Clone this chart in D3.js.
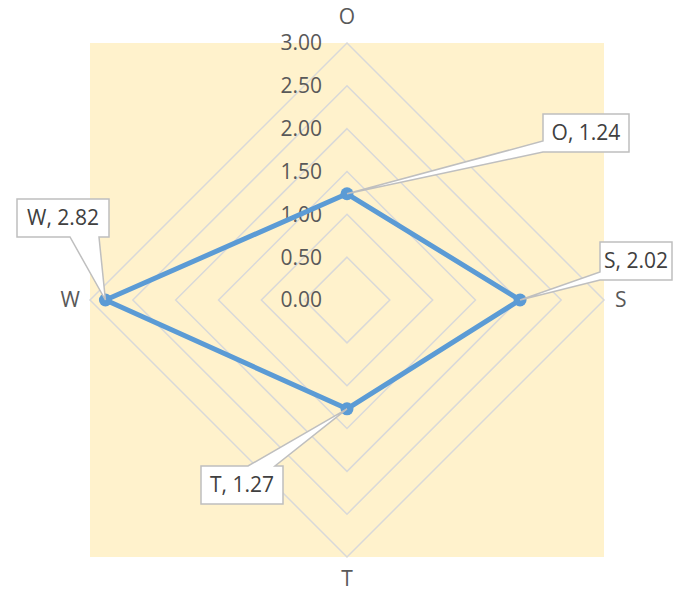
<!DOCTYPE html>
<html>
<head>
<meta charset="utf-8">
<script src="https://cdn.jsdelivr.net/npm/d3@7"></script>
<style>
  body { margin: 0; background: #fff; }
  svg { display: block; }
</style>
</head>
<body>
<div id="chart"></div>
<script>
// data
var axes = ['O', 'S', 'T', 'W'];
var values = [1.24, 2.02, 1.27, 2.82];
var ticks = [0, 0.5, 1, 1.5, 2, 2.5, 3];

var width = 673, height = 593;
var cx = 347, cy = 300, R = 257;

var svg = d3.select('#chart').append('svg')
    .attr('width', width)
    .attr('height', height)
    .style('font-family', '"Open Sans", sans-serif');

var r = d3.scaleLinear().domain([0, 3]).range([0, R]);
var angle = d3.scalePoint().domain(axes).range([0, 2 * Math.PI * 3 / 4]);

function pt(axis, v) {
    var a = angle(axis);
    return [cx + r(v) * Math.sin(a), cy - r(v) * Math.cos(a)];
}

// plot area background
svg.append('rect')
    .attr('x', cx - R)
    .attr('y', cy - R)
    .attr('width', 2 * R)
    .attr('height', 2 * R)
    .attr('fill', '#fff2cc');

// grid rings
var line = d3.line();
svg.append('g').selectAll('path')
    .data(ticks.slice(1))
    .enter().append('path')
    .attr('d', function(t) {
        return line(axes.map(function(a) { return pt(a, t); })) + 'Z';
    })
    .attr('fill', 'none')
    .attr('stroke', '#d9d9d9')
    .attr('stroke-width', 1.5);

// tick labels
svg.append('g').selectAll('text')
    .data(ticks)
    .enter().append('text')
    .attr('x', cx - 25)
    .attr('y', function(t) { return cy - r(t); })
    .attr('dy', '0.35em')
    .attr('text-anchor', 'end')
    .attr('font-size', 21)
    .attr('fill', '#595959')
    .text(function(t) { return t.toFixed(2); });

// axis labels
var labelPos = {
    O: { x: cx, y: cy - R - 26, anchor: 'middle' },
    S: { x: cx + R + 11, y: cy, anchor: 'start' },
    T: { x: cx, y: cy + R + 22, anchor: 'middle' },
    W: { x: cx - R - 10, y: cy, anchor: 'end' }
};
svg.append('g').selectAll('text')
    .data(axes)
    .enter().append('text')
    .attr('x', function(a) { return labelPos[a].x; })
    .attr('y', function(a) { return labelPos[a].y; })
    .attr('dy', '0.35em')
    .attr('text-anchor', function(a) { return labelPos[a].anchor; })
    .attr('font-size', 21)
    .attr('fill', '#595959')
    .text(function(a) { return a; });

// series
var pts = axes.map(function(a, i) { return pt(a, values[i]); });
svg.append('path')
    .attr('d', line(pts) + 'Z')
    .attr('fill', 'none')
    .attr('stroke', '#5b9bd5')
    .attr('stroke-width', 5)
    .attr('stroke-linejoin', 'round');

svg.append('g').selectAll('circle')
    .data(pts)
    .enter().append('circle')
    .attr('cx', function(d) { return d[0]; })
    .attr('cy', function(d) { return d[1]; })
    .attr('r', 6.5)
    .attr('fill', '#5b9bd5');

// callouts: box and where the tail leaves the box
var callouts = {
    O: { x: 543, y: 114, w: 86, h: 38, edge: 'left', b1: 141, b2: 152 },
    S: { x: 600, y: 242, w: 72, h: 38, edge: 'left', b1: 272, b2: 280 },
    T: { x: 201, y: 466, w: 82, h: 38, edge: 'top', b1: 248, b2: 275 },
    W: { x: 17, y: 199, w: 92, h: 38, edge: 'bottom', b1: 70, b2: 99 }
};

function calloutPath(c, p) {
    var x0 = c.x, y0 = c.y, x1 = c.x + c.w, y1 = c.y + c.h;
    var tail = ' L' + p[0] + ',' + p[1] + ' ';
    if (c.edge == 'left') {
        return 'M' + x0 + ',' + y0 + ' H' + x1 + ' V' + y1 + ' H' + x0 +
            ' V' + c.b2 + tail + 'L' + x0 + ',' + c.b1 + ' Z';
    } else if (c.edge == 'top') {
        return 'M' + x0 + ',' + y0 + ' H' + c.b1 + tail + 'L' + c.b2 + ',' + y0 +
            ' H' + x1 + ' V' + y1 + ' H' + x0 + ' Z';
    } else {
        return 'M' + x0 + ',' + y0 + ' H' + x1 + ' V' + y1 + ' H' + c.b2 +
            tail + 'L' + c.b1 + ',' + y1 + ' H' + x0 + ' Z';
    }
}

var cg = svg.append('g');
axes.forEach(function(a, i) {
    var c = callouts[a];
    cg.append('path')
        .attr('d', calloutPath(c, pts[i]))
        .attr('fill', '#fff')
        .attr('stroke', '#bfbfbf')
        .attr('stroke-width', 1.5)
        .attr('stroke-linejoin', 'miter');
    cg.append('text')
        .attr('x', c.x + c.w / 2)
        .attr('y', c.y + c.h / 2)
        .attr('dy', '0.35em')
        .attr('text-anchor', 'middle')
        .attr('font-size', 21)
        .attr('fill', '#404040')
        .text(a + ', ' + values[i].toFixed(2));
});
</script>
</body>
</html>
